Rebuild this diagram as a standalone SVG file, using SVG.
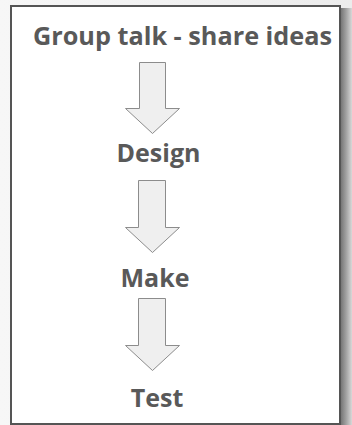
<svg xmlns="http://www.w3.org/2000/svg" width="352" height="425" viewBox="0 0 352 425">
<defs>
<linearGradient id="bgL" x1="0" y1="0" x2="1" y2="0">
<stop offset="0" stop-color="#f7f7f7"/><stop offset="1" stop-color="#ececec"/>
</linearGradient>
<linearGradient id="shR" x1="0" y1="0" x2="1" y2="0">
<stop offset="0" stop-color="#6e6e6e"/><stop offset="0.5" stop-color="#a0a0a0"/><stop offset="1" stop-color="#d8d8d8"/>
</linearGradient>
<style>
.lbl{font-family:"Open Sans","Liberation Sans",sans-serif;font-weight:700;fill:#595959;text-anchor:middle;font-size:25px}
.arr{fill:#efefef;stroke:#8c8c8c;stroke-width:1}
</style>
</defs>
<rect x="0" y="0" width="352" height="425" fill="url(#bgL)"/>
<rect x="340" y="8" width="12" height="417" fill="url(#shR)"/>
<rect x="11" y="6" width="329" height="418" fill="#ffffff" stroke="#555555" stroke-width="2"/>
<g id="connectors">
<path class="arr" d="M139.5,62.5 H165.5 V108.5 H179.5 L152.5,133.5 L125.5,108.5 H139.5 Z"/>
<path class="arr" d="M138.5,180.5 H165.5 V227.5 H179.5 L152.5,252.5 L125.5,227.5 H138.5 Z"/>
<path class="arr" d="M138.5,298.5 H165.5 V345.5 H179.5 L152.5,370.5 L125.5,345.5 H138.5 Z"/>
</g>
<g id="n1"><text class="lbl" x="182.5" y="45" textLength="299" lengthAdjust="spacingAndGlyphs">Group talk - share ideas</text></g>
<g id="n2"><text class="lbl" x="158.5" y="162">Design</text></g>
<g id="n3"><text class="lbl" x="155" y="287">Make</text></g>
<g id="n4"><text class="lbl" x="157" y="407">Test</text></g>
</svg>
